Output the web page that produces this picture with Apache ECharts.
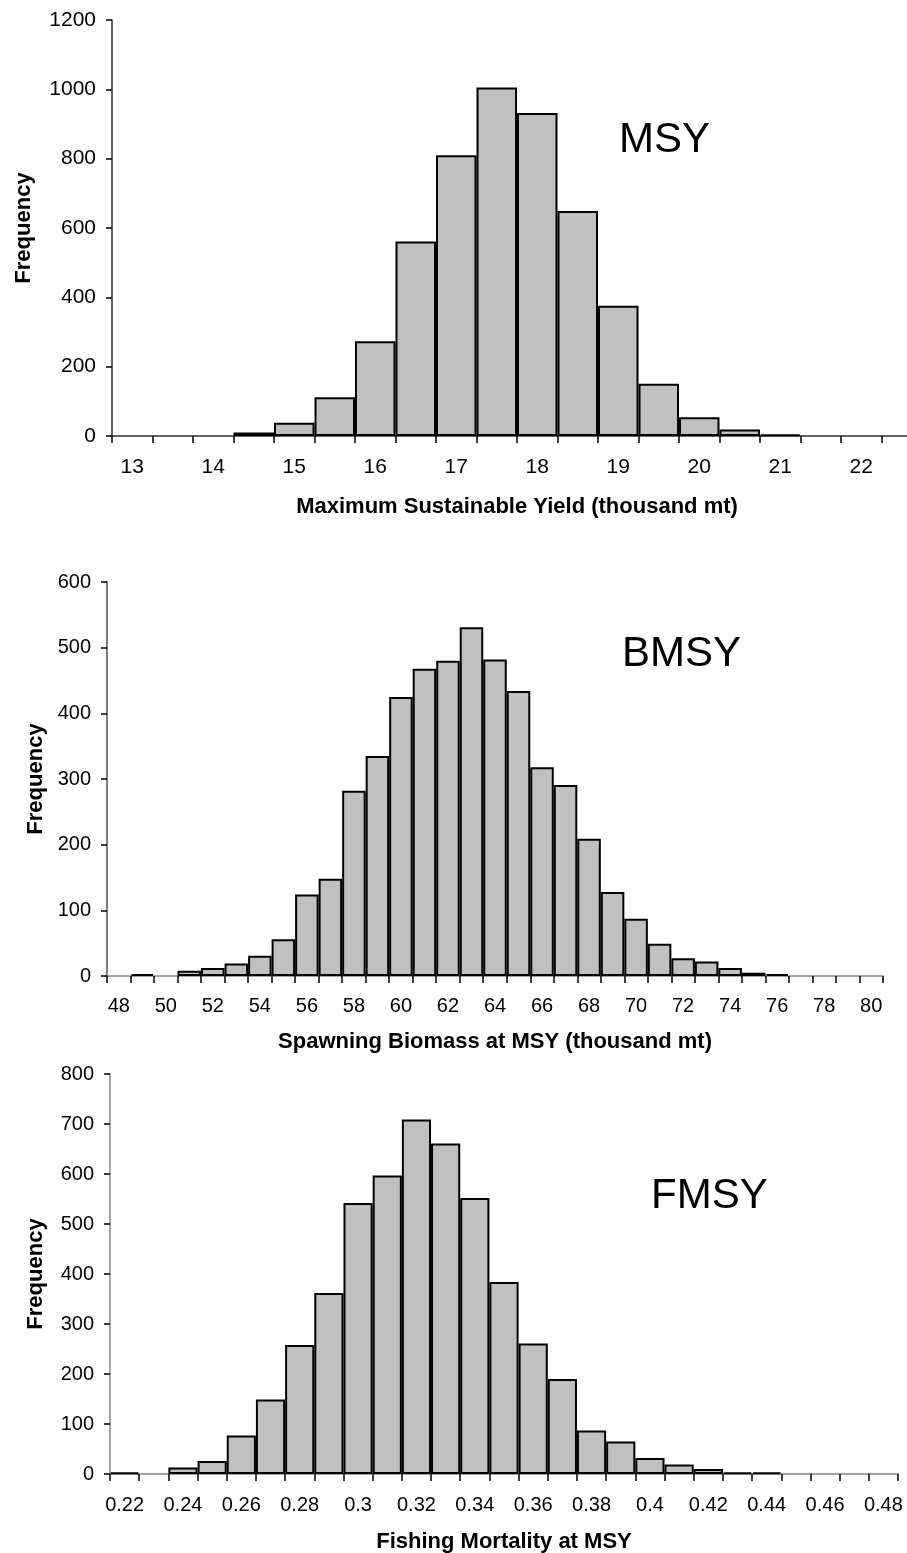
<!DOCTYPE html>
<html>
<head>
<meta charset="utf-8">
<script src="https://cdn.jsdelivr.net/npm/echarts@6/dist/echarts.min.js"></script>
<style>
  html, body { margin: 0; padding: 0; background: #fff; }
  #chart { width: 907px; height: 1553px; }
</style>
</head>
<body>
<div id="chart"></div>
<script>
// MSY histogram (thousand mt)
var msyBins = ["13","13.5","14","14.5","15","15.5","16","16.5","17","17.5","18","18.5","19","19.5","20","20.5","21","21.5","22","22.5"];
var msyFreq = [0,0,0,10,38,112,273,561,810,1005,932,649,376,151,54,19,4,0,0,0];

// BMSY histogram (thousand mt)
var bmsyBins = ["48","49","50","51","52","53","54","55","56","57","58","59","60","61","62","63","64","65","66","67","68","69","70","71","72","73","74","75","76","77","78","79","80"];
var bmsyFreq = [0,3,0,8,12,19,31,56,124,148,282,335,425,468,480,531,482,434,318,291,209,128,87,49,27,22,12,5,3,0,0,0,0];

// FMSY histogram
var fmsyBins = ["0.22","0.23","0.24","0.25","0.26","0.27","0.28","0.29","0.3","0.31","0.32","0.33","0.34","0.35","0.36","0.37","0.38","0.39","0.4","0.41","0.42","0.43","0.44","0.45","0.46","0.47","0.48"];
var fmsyFreq = [3,0,13,26,77,149,258,362,542,597,709,661,552,384,261,190,87,65,32,19,10,3,3,0,0,0,0];

var xNames = ["Maximum Sustainable Yield (thousand mt)", "Spawning Biomass at MSY (thousand mt)", "Fishing Mortality at MSY"];
var panelLabels = ["MSY", "BMSY", "FMSY"];

var FONT = '"Liberation Sans", Arial, sans-serif';
var myChart = echarts.init(document.getElementById("chart"));

function skipZero(arr) {
  return arr.map(function (v) { return v === 0 ? "-" : v; });
}

function xAxisOf(idx, cats, lineColor, fs, margin, gap) {
  return {
    type: "category",
    gridIndex: idx,
    data: cats,
    boundaryGap: true,
    name: xNames[idx],
    nameLocation: "middle",
    nameGap: gap,
    nameTextStyle: { fontFamily: FONT, fontWeight: "bold", fontSize: 22, color: "#000" },
    axisLine: { show: true, lineStyle: { color: lineColor, width: 1.5 } },
    axisTick: { show: true, interval: 0, length: 7, lineStyle: { color: "#000", width: 1.5 } },
    axisLabel: { interval: 1, margin: margin, fontFamily: FONT, fontSize: fs, color: "#000" },
    splitLine: { show: false }
  };
}

function yAxisOf(idx, max, step, lineColor, gap, fs) {
  return {
    type: "value",
    gridIndex: idx,
    min: 0,
    max: max,
    interval: step,
    name: "Frequency",
    nameLocation: "middle",
    nameGap: gap,
    nameTextStyle: { fontFamily: FONT, fontWeight: "bold", fontSize: 22, color: "#000" },
    axisLine: { show: true, lineStyle: { color: lineColor, width: 1.5 } },
    axisTick: { show: true, length: 6, lineStyle: { color: "#000", width: 1.5 } },
    axisLabel: {
      margin: 16, fontFamily: FONT, fontSize: fs, color: "#000",
      formatter: function (v) { return String(v); }
    },
    splitLine: { show: false }
  };
}

function barOf(idx, data) {
  return {
    type: "bar",
    xAxisIndex: idx,
    yAxisIndex: idx,
    data: skipZero(data),
    barWidth: "100%",
    barGap: "0%",
    itemStyle: { color: "#c0c0c0", borderColor: "#000", borderWidth: 2 },
    emphasis: { disabled: true },
    animation: false
  };
}

function labelOf(text, x, y) {
  return {
    type: "text",
    x: x,
    y: y,
    style: { text: text, fill: "#000", font: "42px " + FONT, verticalAlign: "middle" }
  };
}

var option = {
  backgroundColor: "#fff",
  animation: false,
  grid: [
    { left: 112, top: 20, width: 810, height: 416, outerBoundsMode: "none" },
    { left: 107, top: 582, width: 776, height: 394, outerBoundsMode: "none" },
    { left: 110, top: 1074, width: 788, height: 400, outerBoundsMode: "none" }
  ],
  xAxis: [
    xAxisOf(0, msyBins, "#333", 21, 21, 60),
    xAxisOf(1, bmsyBins, "#888", 20, 20, 55),
    xAxisOf(2, fmsyBins, "#888", 20, 21, 57)
  ],
  yAxis: [
    yAxisOf(0, 1200, 200, "#333", 77, 21),
    yAxisOf(1, 600, 100, "#555", 60, 20),
    yAxisOf(2, 800, 100, "#888", 63, 20)
  ],
  series: [
    barOf(0, msyFreq),
    barOf(1, bmsyFreq),
    barOf(2, fmsyFreq)
  ],
  graphic: [
    labelOf(panelLabels[0], 619, 140),
    labelOf(panelLabels[1], 622, 654),
    labelOf(panelLabels[2], 651, 1196)
  ]
};

myChart.setOption(option);
window.addEventListener("resize", function () {
  myChart.resize();
});
</script>
</body>
</html>
